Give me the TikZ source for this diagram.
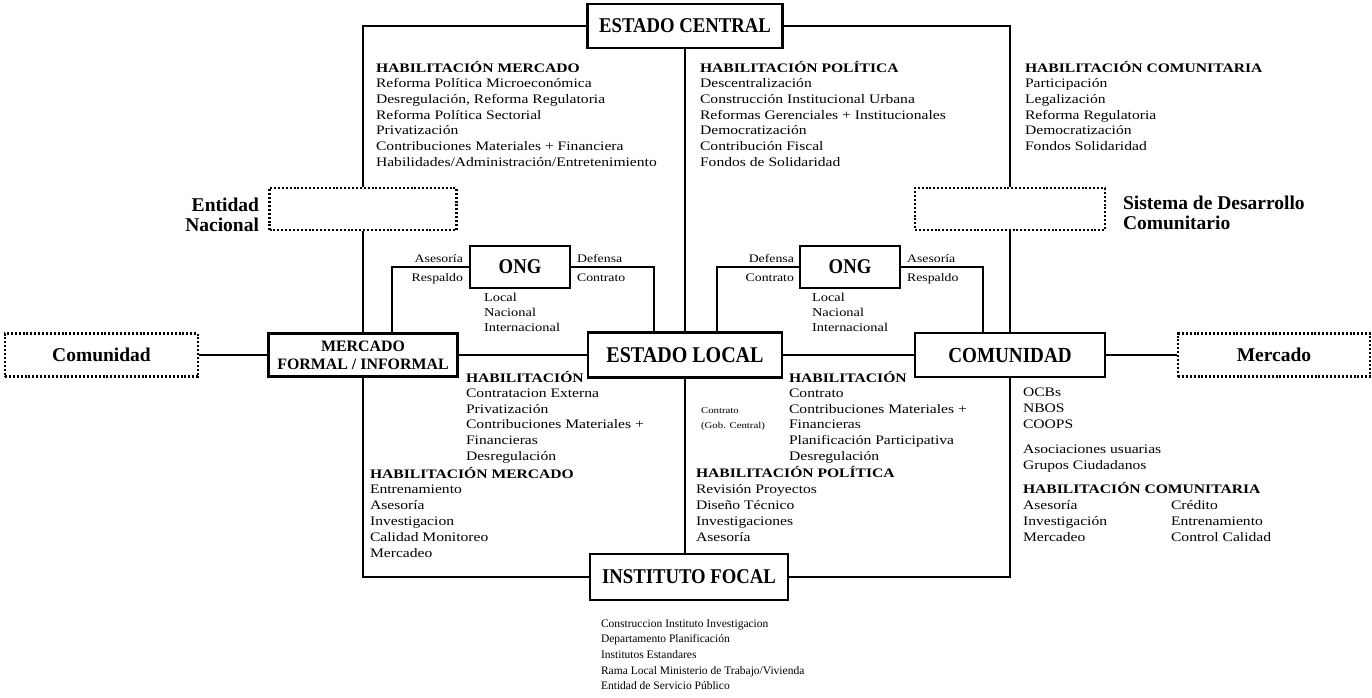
\documentclass[tikz,border=0pt]{standalone}
\usepackage{fontspec}
\setmainfont{Liberation Serif}
\newfontfamily\bodyf[FakeStretch=1.2]{Liberation Serif}
\newfontfamily\ttlf{Liberation Serif}
\newfontfamily\ttlc[FakeStretch=0.89]{Liberation Serif}
\newcommand{\blkL}[1]{\begin{tabular}[t]{@{}l@{}}#1\end{tabular}}
\newcommand{\blkR}[1]{\begin{tabular}[t]{@{}r@{}}#1\end{tabular}}
\begin{document}
\begin{tikzpicture}[x=1pt,y=-1pt,line width=2.1pt,
  tbox/.style={draw,line width=2.3pt,inner sep=0pt,align=center,
    font=\ttlc\bfseries\fontsize{21}{22}\selectfont},
  dbox/.style={draw,line width=2.2pt,dash pattern=on 2pt off 1.9pt,inner sep=0pt,
    font=\ttlf\bfseries\fontsize{19.5}{20}\selectfont},
  side/.style={inner sep=0pt,font=\ttlf\bfseries\fontsize{19.5}{20.5}\selectfont},
  txt/.style={anchor=base west,inner sep=0pt,font=\bodyf\fontsize{13}{15.7}\selectfont},
  lbl/.style={inner sep=0pt,font=\bodyf\fontsize{11.5}{14}\selectfont},
  small/.style={anchor=base west,inner sep=0pt,font=\bodyf\fontsize{12}{15}\selectfont}]
\path[use as bounding box,fill=white] (0,0) rectangle (1372,697);

% main boxes
\node[tbox,minimum width=195,minimum height=44] (ecen) at (685,26) {ESTADO CENTRAL};
\node[tbox,minimum width=194,minimum height=45,font=\ttlc\bfseries\fontsize{22.5}{22}\selectfont] (eloc) at (685,355) {ESTADO LOCAL};
\node[tbox,minimum width=198,minimum height=46] (ifoc) at (689,577) {INSTITUTO FOCAL};
\node[tbox,minimum width=189,minimum height=43,font=\ttlf\bfseries\fontsize{15.9}{18}\selectfont] (merc) at (363,355) {MERCADO\\FORMAL / INFORMAL};
\node[tbox,minimum width=190,minimum height=44,font=\ttlc\bfseries\fontsize{21.5}{22}\selectfont] (comu) at (1010,355) {COMUNIDAD};
\node[tbox,minimum width=100,minimum height=42] (ongL) at (520,267) {ONG};
\node[tbox,minimum width=100,minimum height=42] (ongR) at (850,267) {ONG};

% dotted boxes
\node[dbox,minimum width=187,minimum height=42] (enti) at (363,209) {};
\node[dbox,minimum width=190,minimum height=42] (sist) at (1010,209) {};
\node[dbox,minimum width=193,minimum height=43] (dcom) at (101.5,355) {Comunidad};
\node[dbox,minimum width=192,minimum height=43] (dmer) at (1274,355) {Mercado};

% side labels
\node[side,anchor=base east] (lenti) at (260,211) {\blkR{Entidad\\Nacional}};
\node[side,anchor=base west] (lsist) at (1122,209) {\blkL{Sistema de Desarrollo\\Comunitario}};

% frame connectors
\draw (ecen.west) -| (enti.north);
\draw (enti.south) -- (merc.north);
\draw (merc.south) |- (ifoc.west);
\draw (ecen.east) -| (sist.north);
\draw (sist.south) -- (comu.north);
\draw (comu.south) |- (ifoc.east);
\draw (ecen.south) -- (eloc.north);
\draw (eloc.south) -- (eloc.south |- ifoc.north);
\draw (dcom.east) -- (merc.west);
\draw (merc.east) -- (eloc.west);
\draw (eloc.east) -- (comu.west);
\draw (comu.east) -- (dmer.west);

% ONG connectors
\coordinate (kL1) at (392,0);
\coordinate (kL2) at (654,0);
\coordinate (kR1) at (717,0);
\coordinate (kR2) at (983,0);
\draw (ongL.west) -| (merc.north -| kL1);
\draw (ongL.east) -| (eloc.north -| kL2);
\draw (ongR.west) -| (eloc.north -| kR1);
\draw (ongR.east) -| (comu.north -| kR2);

% ONG labels
\node[lbl,anchor=base east] (la1) at (464,262) {Asesoría};
\node[lbl,anchor=base east] (la2) at (464,281) {Respaldo};
\node[lbl,anchor=base west] (la3) at (576,262) {Defensa};
\node[lbl,anchor=base west] (la4) at (576,281) {Contrato};
\node[lbl,anchor=base east] (lb1) at (795,262) {Defensa};
\node[lbl,anchor=base east] (lb2) at (795,281) {Contrato};
\node[lbl,anchor=base west] (lb3) at (906,262) {Asesoría};
\node[lbl,anchor=base west] (lb4) at (906,281) {Respaldo};
\node[small] (lc1) at (483,301) {\blkL{Local\\Nacional\\Internacional}};
\node[small] (lc2) at (811,301) {\blkL{Local\\Nacional\\Internacional}};

% top text blocks
\node[txt] (tA) at (375,72) {\blkL{\textbf{HABILITACIÓN MERCADO}\\
  Reforma Política Microeconómica\\
  Desregulación, Reforma Regulatoria\\
  Reforma Política Sectorial\\
  Privatización\\
  Contribuciones Materiales + Financiera\\
  Habilidades/Administración/Entretenimiento}};
\node[txt] (tB) at (699,72) {\blkL{\textbf{HABILITACIÓN POLÍTICA}\\
  Descentralización\\
  Construcción Institucional Urbana\\
  Reformas Gerenciales + Institucionales\\
  Democratización\\
  Contribución Fiscal\\
  Fondos de Solidaridad}};
\node[txt] (tC) at (1024,72) {\blkL{\textbf{HABILITACIÓN COMUNITARIA}\\
  Participación\\
  Legalización\\
  Reforma Regulatoria\\
  Democratización\\
  Fondos Solidaridad}};

% lower text blocks
\node[txt,font=\bodyf\fontsize{13}{15.6}\selectfont] (tF) at (465,382) {\blkL{\textbf{HABILITACIÓN}\\
  Contratacion Externa\\
  Privatización\\
  Contribuciones Materiales +\\
  Financieras\\
  Desregulación}};
\node[txt,font=\bodyf\fontsize{13}{15.8}\selectfont] (tF2) at (369,478) {\blkL{\textbf{HABILITACIÓN MERCADO}\\
  Entrenamiento\\
  Asesoría\\
  Investigacion\\
  Calidad Monitoreo\\
  Mercadeo}};
\node[txt,font=\bodyf\fontsize{13}{15.6}\selectfont] (tG) at (788,382) {\blkL{\textbf{HABILITACIÓN}\\
  Contrato\\
  Contribuciones Materiales +\\
  Financieras\\
  Planificación Participativa\\
  Desregulación}};
\node[txt,font=\bodyf\fontsize{9}{15}\selectfont] (tGs) at (700,413) {\blkL{Contrato\\(Gob. Central)}};
\node[txt,font=\bodyf\fontsize{13}{16}\selectfont] (tG2) at (695,477) {\blkL{\textbf{HABILITACIÓN POLÍTICA}\\
  Revisión Proyectos\\
  Diseño Técnico\\
  Investigaciones\\
  Asesoría}};
\node[txt,font=\bodyf\fontsize{13}{16}\selectfont] (tH1) at (1022,396) {\blkL{OCBs\\NBOS\\COOPS}};
\node[txt,font=\bodyf\fontsize{13}{16}\selectfont] (tH2) at (1022,453) {\blkL{Asociaciones usuarias\\Grupos Ciudadanos}};
\node[txt,font=\bodyf\fontsize{13}{16}\selectfont] (tH3) at (1022,493) {\begin{tabular}[t]{@{}p{148pt}@{}l@{}}
  \multicolumn{2}{@{}l@{}}{\textbf{HABILITACIÓN COMUNITARIA}}\\
  Asesoría & Crédito\\
  Investigación & Entrenamiento\\
  Mercadeo & Control Calidad\end{tabular}};
\node[txt,font=\ttlf\fontsize{11.5}{15.7}\selectfont] (tI) at (600,627) {\blkL{Construccion Instituto Investigacion\\
  Departamento Planificación\\
  Institutos Estandares\\
  Rama Local Ministerio de Trabajo/Vivienda\\
  Entidad de Servicio Público}};
\end{tikzpicture}
\end{document}
